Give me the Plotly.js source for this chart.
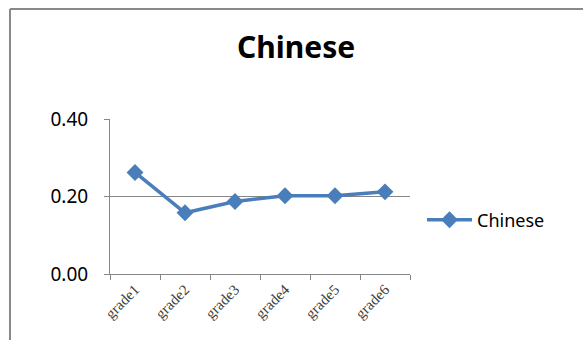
<!DOCTYPE html>
<html>
<head>
<meta charset="utf-8">
<script src="https://cdn.plot.ly/plotly-3.0.1.min.js"></script>
<style>
html,body{margin:0;padding:0;background:#fff;}
#chart{width:583px;height:340px;}
</style>
</head>
<body>
<div id="chart"></div>
<script>
const categories = ["grade1","grade2","grade3","grade4","grade5","grade6"];
const chineseValues = [0.262, 0.158, 0.187, 0.202, 0.202, 0.212];
const yTickValues = [0, 0.2, 0.4];
const seriesName = "Chinese";
const chartTitle = "Chinese";

const L = 110, R = 173, T = 119, B = 66;
const W = 583, H = 340;
const pw = W - L - R, ph = H - T - B;
const bx = (10 - L) / pw;
const by = (H - B - 9) / ph;

const trace = {
  x: categories,
  y: chineseValues,
  name: seriesName,
  type: "scatter",
  mode: "lines+markers",
  line: {color: "#4a7ebb", width: 3.5},
  marker: {symbol: "diamond", size: 13, color: "#4a7ebb"}
};

const layout = {
  width: W, height: H,
  margin: {l: L, r: R, t: T, b: B, pad: 0},
  paper_bgcolor: "#ffffff",
  plot_bgcolor: "#ffffff",
  title: {
    text: "<b>" + chartTitle + "</b>",
    font: {family: "Noto Sans", size: 30, color: "#000000"},
    x: 0.508, xanchor: "center",
    y: 1 - 47/H, yanchor: "middle"
  },
  showlegend: true,
  legend: {
    x: (422 - L) / pw, xanchor: "left",
    y: (H - B - 220) / ph, yanchor: "middle",
    font: {family: "Noto Sans", size: 18, color: "#000000"},
    bgcolor: "rgba(0,0,0,0)",
    itemwidth: 45
  },
  xaxis: {
    type: "category",
    showline: true, linecolor: "#868686", linewidth: 1,
    ticks: "outside", tickson: "boundaries", ticklen: 5, tickcolor: "#868686",
    showgrid: false,
    tickangle: -45,
    tickfont: {family: "Liberation Serif", size: 15, color: "#404040"},
    range: [-0.5, 5.5],
    fixedrange: true
  },
  yaxis: {
    range: [0, 0.4],
    tickvals: yTickValues,
    tickformat: ".2f",
    showline: true, linecolor: "#868686", linewidth: 1,
    ticks: "outside", ticklen: 5, tickcolor: "#868686",
    showgrid: true, gridcolor: "#868686", gridwidth: 1,
    zeroline: false,
    tickfont: {family: "Noto Sans", size: 19, color: "#000000"},
    ticklabelstandoff: 12,
    fixedrange: true
  },
  shapes: [
    {type: "line", xref: "paper", yref: "paper", x0: bx, x1: bx, y0: -2, y1: by,
     line: {color: "#898989", width: 2}},
    {type: "line", xref: "paper", yref: "paper", x0: bx, x1: 3, y0: by, y1: by,
     line: {color: "#898989", width: 2}}
  ]
};

Plotly.newPlot("chart", [trace], layout, {displayModeBar: false, staticPlot: true});
</script>
</body>
</html>
